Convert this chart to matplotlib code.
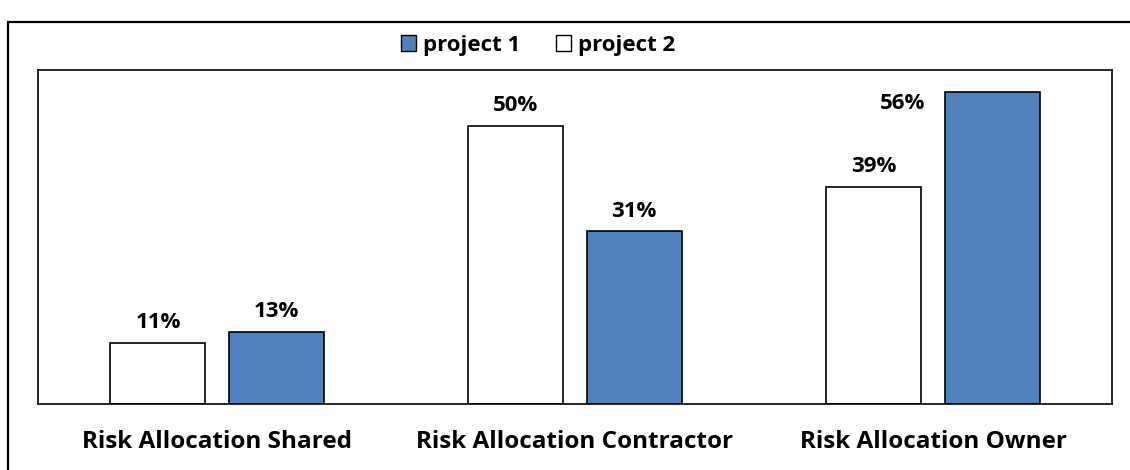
import numpy as np
import matplotlib.pyplot as plt
from matplotlib.patches import Rectangle, Patch

# datos
categorias = ['Risk Allocation Shared', 'Risk Allocation Contractor', 'Risk Allocation Owner']
proyecto1 = [13, 31, 56]
proyecto2 = [11, 50, 39]

azul = '#4f81bd'

fig = plt.figure(figsize=(11.3, 4.7), dpi=100)
plt.rcParams['font.family'] = ['Open Sans', 'DejaVu Sans']

# marco exterior
fig.patches.append(Rectangle((8 / 1130, -0.1), 1.2, 1.1 - 22 / 470,
                             transform=fig.transFigure, fill=False,
                             edgecolor='black', linewidth=1.6))

ax = fig.add_axes([38 / 1130, 66 / 470, 1074 / 1130, 334 / 470])
x = np.arange(len(categorias))
ancho = 0.265
desp = 0.165

b2 = ax.bar(x - desp, proyecto2, ancho, color='white', edgecolor='black', linewidth=1.2)
b1 = ax.bar(x + desp, proyecto1, ancho, color=azul, edgecolor='black', linewidth=1.2)

for barras in (b1, b2):
    for b in barras:
        h = b.get_height()
        if h >= 55:
            # la etiqueta no cabe arriba: va a la izquierda de la barra
            ax.annotate(f'{h:.0f}%', (b.get_x(), h), xytext=(-14, -8),
                        textcoords='offset points', ha='right', va='center',
                        fontsize=16, fontweight='bold')
        else:
            ax.annotate(f'{h:.0f}%', (b.get_x() + b.get_width() / 2, h),
                        xytext=(0, 7), textcoords='offset points', ha='center', va='bottom',
                        fontsize=16, fontweight='bold')

ax.set_xlim(-0.5, 2.5)
ax.set_ylim(0, 60)
ax.set_yticks([])
ax.set_xticks(x)
ax.set_xticklabels(categorias, fontsize=17.5, fontweight='bold')
ax.tick_params(axis='x', length=0, pad=19)
for s in ax.spines.values():
    s.set_linewidth(1.2)

handles = [Patch(facecolor=azul, edgecolor='black', label='project 1'),
           Patch(facecolor='white', edgecolor='black', label='project 2')]
fig.legend(handles=handles, loc='center', bbox_to_anchor=(538 / 1130, 1 - 45 / 470), ncol=2,
           frameon=False, prop={'size': 16, 'weight': 'bold'}, handlelength=0.7,
           handleheight=0.7, handletextpad=0.3, columnspacing=1.6)

plt.savefig('out.png', dpi=100)
